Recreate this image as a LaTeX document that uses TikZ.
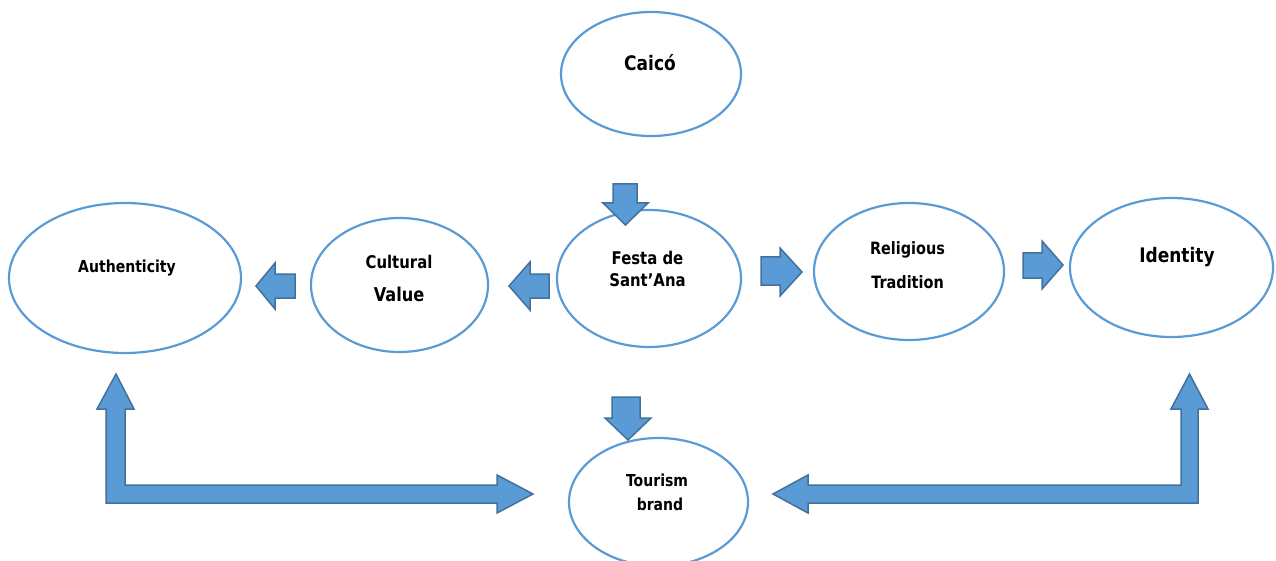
\documentclass[tikz,border=0pt]{standalone}
\usepackage{fontspec}
\setmainfont[FakeStretch=0.85]{DejaVu Sans}
\usetikzlibrary{shapes.geometric}

\definecolor{bubbleblue}{HTML}{5B9BD5}
\definecolor{arrowedge}{HTML}{41719C}

\tikzset{
  bubble/.style={ellipse, draw=bubbleblue, line width=2.2pt, inner sep=0pt},
  lbl/.style={font=\bfseries, align=center, inner sep=0pt},
  blockarrow/.style={fill=bubbleblue, draw=arrowedge, line width=1.5pt, line join=miter}
}
\newcommand{\fsz}[1]{\fontsize{#1}{#1}\selectfont}

\begin{document}
\begin{tikzpicture}[x=1pt, y=-1pt]
\useasboundingbox (0,0) rectangle (1276,561);

% Ellipses
\node[bubble, minimum width=180pt, minimum height=124pt] (caico) at (651,74) {};
\node[bubble, minimum width=184pt, minimum height=137pt] (festa) at (649,278.5) {};
\node[bubble, minimum width=177pt, minimum height=134pt] (cultural) at (399.5,285) {};
\node[bubble, minimum width=232pt, minimum height=150pt] (authenticity) at (125,278) {};
\node[bubble, minimum width=190pt, minimum height=137pt] (religious) at (909,271.5) {};
\node[bubble, minimum width=203pt, minimum height=139pt] (identity) at (1171.5,267.5) {};
\node[bubble, minimum width=179pt, minimum height=128pt] (tourism) at (658.5,502) {};

% Texts
\node[lbl, font=\bfseries\fsz{20}] (caico-t) at (650,63) {Caicó};
\node[lbl, font=\bfseries\fontsize{17.5}{22}\selectfont] (festa-t) at (647.5,269) {Festa de\\Sant’Ana};
\node[lbl, font=\bfseries\fontsize{17.5}{33}\selectfont] (cultural-t) at (399,278.5) {Cultural\\{\fsz{19}Value}};
\node[lbl, font=\bfseries\fsz{16.5}] (authenticity-t) at (127,268) {Authenticity};
\node[lbl, font=\bfseries\fontsize{17}{34}\selectfont] (religious-t) at (907.5,265) {Religious\\Tradition};
\node[lbl, font=\bfseries\fsz{20}] (identity-t) at (1177,257) {Identity};
\node[lbl, font=\bfseries\fontsize{16.5}{24}\selectfont] (tourism-t) at (657,492) {Tourism\\\hspace*{6pt}brand};

% Straight block arrows
\draw[blockarrow] (613,184) -- (637,184) -- (637,203) -- (648,203) -- (625.5,225) -- (603,203) -- (613,203) -- cycle;
\draw[blockarrow] (761,257) -- (780,257) -- (780,248) -- (802,272) -- (780,296) -- (780,285) -- (761,285) -- cycle;
\draw[blockarrow] (549,274) -- (530,274) -- (530,262) -- (509,286) -- (530,310) -- (530,298) -- (549,298) -- cycle;
\draw[blockarrow] (295,274) -- (275,274) -- (275,263) -- (256,286) -- (275,309) -- (275,298) -- (295,298) -- cycle;
\draw[blockarrow] (1023,253) -- (1042,253) -- (1042,241) -- (1063,265) -- (1042,289) -- (1042,278) -- (1023,278) -- cycle;
\draw[blockarrow] (612,397) -- (640,397) -- (640,418) -- (651,418) -- (628,440) -- (605,418) -- (612,418) -- cycle;

% Bent block arrows
\draw[blockarrow] (106,409) -- (97,409) -- (116,374) -- (134,409) -- (125,409) -- (125,485) -- (497,485) -- (497,475) -- (533,494) -- (497,513) -- (497,503) -- (106,503) -- cycle;
\draw[blockarrow] (1181,409) -- (1171,409) -- (1189.5,374) -- (1208,409) -- (1198,409) -- (1198,503) -- (808,503) -- (808,513) -- (773,494) -- (808,475) -- (808,485) -- (1181,485) -- cycle;

\end{tikzpicture}
\end{document}
